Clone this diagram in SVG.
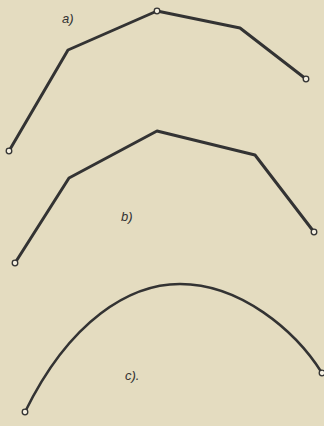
<svg xmlns="http://www.w3.org/2000/svg" width="324" height="426" viewBox="0 0 324 426">
<style>
.ln{fill:none;stroke:#333333;stroke-width:3;stroke-linejoin:round;stroke-linecap:round}
.cv{fill:none;stroke:#333333;stroke-width:2.5;stroke-linecap:round}
.pt{fill:#f4efe0;stroke:#333333;stroke-width:1.3}
.lb{font-family:"Liberation Sans",Arial,sans-serif;font-style:italic;font-size:13px;fill:#333333}
</style>
<rect width="324" height="426" fill="#e4dcc0"/>
<g id="curve-a">
<polyline class="ln" points="9,151 68,50 157,11 240,28 306,79"/>
<circle class="pt" cx="9" cy="151" r="2.8"/>
<circle class="pt" cx="157" cy="11" r="2.8"/>
<circle class="pt" cx="306" cy="79" r="2.8"/>
<text class="lb" x="62" y="23">a)</text>
</g>
<g id="curve-b">
<polyline class="ln" points="15,263 69,178 157,131 255,155 314,232"/>
<circle class="pt" cx="15" cy="263" r="2.8"/>
<circle class="pt" cx="314" cy="232" r="2.8"/>
<text class="lb" x="121" y="221">b)</text>
</g>
<g id="curve-c">
<path class="cv" d="M25,412 C70,320 130,284 180,284 C240,284 295,330 322,373"/>
<circle class="pt" cx="25" cy="412" r="2.8"/>
<circle class="pt" cx="322" cy="373" r="2.8"/>
<text class="lb" x="125" y="380">c).</text>
</g>
</svg>
